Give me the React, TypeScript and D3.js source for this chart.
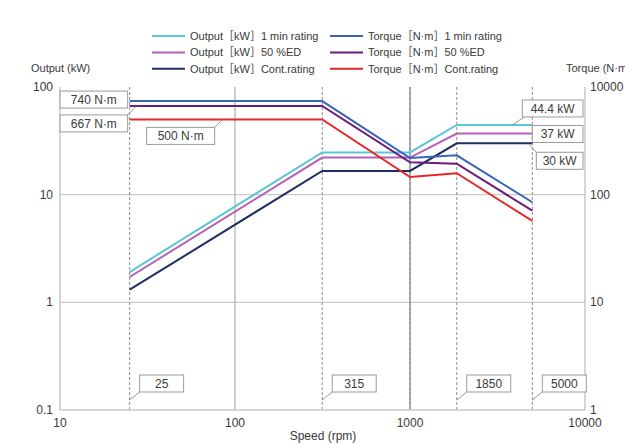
import React from "react";
import * as d3 from "d3";

// speed break points (rpm)
const speeds = [25, 315, 1000, 1850, 5000];

// output (kW)
const output1min = [1.91, 24.7, 24.7, 44.4, 44.4];
const output50ed = [1.72, 22.1, 22.1, 37, 37];
const outputCont = [1.31, 16.6, 16.6, 30, 30];

// torque (N·m)
const torque1min = [740, 740, 219, 232, 85];
const torque50ed = [667, 667, 200, 194, 71];
const torqueCont = [500, 500, 146, 158, 57];

const xTicks = [10, 100, 1000, 10000];
const leftTicks = [0.1, 1, 10, 100];
const leftTickLabels = ["0.1", "1", "10", "100"];
const rightTicks = [1, 10, 100, 1000];
const rightTickLabels = ["1", "10", "100", "10000"];

const speedMarks = [25, 315, 1850, 5000];

const legendItems = [
  { label: "Output［kW］1 min rating", color: "#5cc6d6" },
  { label: "Torque［N·m］1 min rating", color: "#3b64b6" },
  { label: "Output［kW］50 %ED", color: "#b461b6" },
  { label: "Torque［N·m］50 %ED", color: "#681c7e" },
  { label: "Output［kW］Cont.rating", color: "#1f2d63" },
  { label: "Torque［N·m］Cont.rating", color: "#e8262a" },
];

const W = 625;
const H = 445;
const left = 60;
const right = 585;
const top = 87;
const bottom = 410;

const font = "'Liberation Sans', Arial, 'Noto Sans CJK JP', sans-serif";
const textColor = "#3a3a3a";
const gridColor = "#c9c9c9";

const Box = ({ x, y, w, text, lead }: { x: number; y: number; w: number; text: string; lead?: [number, number, number, number] }) => (
  <g>
    {lead && <line x1={lead[0]} y1={lead[1]} x2={lead[2]} y2={lead[3]} stroke="#8a8a8a" strokeWidth={0.9} />}
    <rect x={x} y={y} width={w} height={17} fill="#fff" stroke="#9a9a9a" strokeWidth={1} />
    <text x={x + w / 2} y={y + 12.8} textAnchor="middle" fontSize={12} fill={textColor}>
      {text}
    </text>
  </g>
);

export default function App() {
  const x = d3.scaleLog().domain([10, 10000]).range([left, right]);
  const yL = d3.scaleLog().domain([0.1, 100]).range([bottom, top]);
  const yR = d3.scaleLog().domain([1, 1000]).range([bottom, top]);

  const lineL = d3.line<number>().x((_, i) => x(speeds[i])).y((d) => yL(d));
  const lineR = d3.line<number>().x((_, i) => x(speeds[i])).y((d) => yR(d));

  const series = [
    { d: lineL(output1min), color: legendItems[0].color },
    { d: lineL(output50ed), color: legendItems[2].color },
    { d: lineL(outputCont), color: legendItems[4].color },
    { d: lineR(torque1min), color: legendItems[1].color },
    { d: lineR(torque50ed), color: legendItems[3].color },
    { d: lineR(torqueCont), color: legendItems[5].color },
  ];

  const x25 = x(speeds[0]);
  const x5000 = x(speeds[4]);

  return (
    <svg width={W} height={H} style={{ position: "absolute", left: 0, top: 0, background: "#fff" }} fontFamily={font}>
      {/* legend */}
      {legendItems.map((it, i) => {
        const col = i % 2;
        const row = Math.floor(i / 2);
        const lx = col === 0 ? 152 : 330;
        const ly = 36 + row * 16.4;
        return (
          <g key={it.label}>
            <line x1={lx} x2={lx + 33} y1={ly} y2={ly} stroke={it.color} strokeWidth={2} />
            <text x={lx + 38} y={ly + 4} fontSize={11} fill={textColor}>
              {it.label}
            </text>
          </g>
        );
      })}

      {/* axis titles */}
      <text x={31} y={72} fontSize={11} fill={textColor}>Output (kW)</text>
      <text x={566} y={72} fontSize={11} fill={textColor}>Torque (N·m)</text>
      <text x={323} y={440} textAnchor="middle" fontSize={12} fill={textColor}>Speed (rpm)</text>

      {/* grid */}
      {[1, 10].map((v) => (
        <line key={v} x1={left} x2={right} y1={yL(v)} y2={yL(v)} stroke={gridColor} strokeWidth={1.3} />
      ))}
      <line x1={x(100)} x2={x(100)} y1={top} y2={bottom} stroke="#b5b5b5" strokeWidth={1.3} />
      <line x1={x(1000)} x2={x(1000)} y1={top} y2={bottom} stroke="#8f8f8f" strokeWidth={1.4} />
      {speeds.map((s) => (
        <line key={s} x1={x(s)} x2={x(s)} y1={top} y2={bottom} stroke="#8c8c8c" strokeWidth={1} strokeDasharray="3,2" />
      ))}

      {/* frame */}
      <line x1={left} x2={left} y1={top} y2={bottom} stroke={gridColor} strokeWidth={1.5} />
      <line x1={right} x2={right} y1={top} y2={bottom} stroke={gridColor} strokeWidth={1.5} />
      <line x1={left} x2={right} y1={bottom} y2={bottom} stroke={gridColor} strokeWidth={1.5} />

      {/* ticks */}
      {leftTicks.map((v, i) => (
        <text key={v} x={53} y={yL(v) + 4} textAnchor="end" fontSize={12} fill={textColor}>
          {leftTickLabels[i]}
        </text>
      ))}
      {rightTicks.map((v, i) => (
        <text key={v} x={590} y={yR(v) + 4} fontSize={12} fill={textColor}>
          {rightTickLabels[i]}
        </text>
      ))}
      {xTicks.map((v) => (
        <text key={v} x={x(v)} y={427} textAnchor="middle" fontSize={12} fill={textColor}>
          {v}
        </text>
      ))}

      {/* curves */}
      {series.map((s, i) => (
        <path key={i} d={s.d || ""} fill="none" stroke={s.color} strokeWidth={2} />
      ))}

      {/* torque annotations */}
      <Box x={left} y={yR(torque1min[0]) - 10} w={x25 - left - 2} text="740 N·m" />
      <Box
        x={left}
        y={yR(torque50ed[0]) + 9}
        w={x25 - left - 2}
        text="667 N·m"
        lead={[x25 - 2, yR(torque50ed[0]) + 9, x25 + 7, yR(torque50ed[0])]}
      />
      <Box
        x={x25 + 17}
        y={yR(torqueCont[0]) + 8}
        w={68}
        text="500 N·m"
        lead={[x25 + 85, yR(torqueCont[0]) + 8, x25 + 93, yR(torqueCont[0])]}
      />

      {/* output annotations */}
      <Box
        x={x5000 - 10}
        y={yL(output1min[4]) - 25}
        w={right - x5000 + 8}
        text="44.4 kW"
        lead={[x5000 - 8, yL(output1min[4]) - 8, x5000 - 20, yL(output1min[4])]}
      />
      <Box x={x5000} y={yL(output50ed[4]) - 8} w={right - x5000 - 2} text="37 kW" />
      <Box
        x={x5000 + 4}
        y={yL(outputCont[4]) + 9}
        w={right - x5000 - 6}
        text="30 kW"
        lead={[x5000 + 4, yL(outputCont[4]) + 9, x5000 - 3, yL(outputCont[4]) + 1]}
      />

      {/* speed annotations */}
      {speedMarks.map((s) => (
        <Box key={s} x={x(s) + 10} y={375} w={44} text={String(s)} lead={[x(s) + 10, 392, x(s), 400]} />
      ))}
    </svg>
  );
}
